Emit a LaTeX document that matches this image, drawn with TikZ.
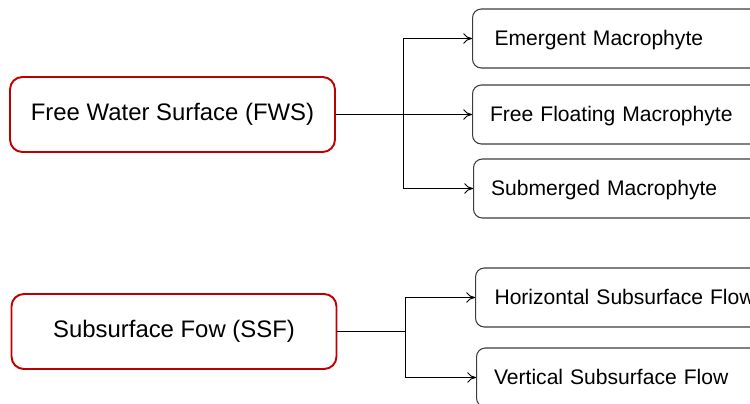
\documentclass[tikz,border=0pt]{standalone}
\usepackage{fontspec}
\setmainfont{Liberation Sans}
\usepackage{tikz}
\usetikzlibrary{arrows.meta}

\definecolor{boxred}{RGB}{192,0,0}
\definecolor{boxgray}{RGB}{60,60,60}

\begin{document}
\begin{tikzpicture}[x=0.02cm, y=-0.02cm, >={To[length=5pt, width=6pt]},
    line width=0.55pt,
    typebox/.style={rectangle, rounded corners=7pt, draw=boxred, line width=1.1pt,
        minimum width=6.5cm, minimum height=1.5cm, font=\fontsize{13.6}{16}\selectfont},
    subbox/.style={rectangle, rounded corners=5pt, draw=boxgray, line width=0.6pt,
        anchor=west, minimum width=7cm, minimum height=1.18cm, text width=6.3cm,
        text height=1.05em, text depth=0.25em,
        align=left, inner xsep=0.34cm, font=\fontsize{12}{14}\selectfont}]
    \useasboundingbox (0,0) rectangle (750,403);
    \clip (0,0) rectangle (750,403);

    % Free water surface branch
    \node[typebox] (fws) at (172.5,114.5) {Free Water Surface (FWS)};
    \node[subbox, inner xsep=0.44cm] (emergent) at (472,38.5) {Emergent Macrophyte};
    \node[subbox] (floating) at (472,114.5) {Free Floating Macrophyte};
    \node[subbox] (submerged) at (473,188.5) {Submerged Macrophyte};

    \coordinate (fwsSplit) at (403.5,114.5);
    \draw (fws.east) -- (fwsSplit);
    \draw[->] (fwsSplit) |- (emergent.west);
    \draw[->] (fwsSplit) -- (floating.west);
    \draw[->] (fwsSplit) |- (submerged.west);

    % Subsurface flow branch
    \node[typebox] (ssf) at (174,331.5) {Subsurface Fow (SSF)};
    \node[subbox, inner xsep=0.38cm] (horizontal) at (475,297.5) {Horizontal Subsurface Flow};
    \node[subbox, inner xsep=0.32cm] (vertical) at (476,377.5) {Vertical Subsurface Flow};

    \coordinate (ssfSplit) at (405.5,331.5);
    \draw (ssf.east) -- (ssfSplit);
    \draw[->] (ssfSplit) |- (horizontal.west);
    \draw[->] (ssfSplit) |- (vertical.west);
\end{tikzpicture}
\end{document}
